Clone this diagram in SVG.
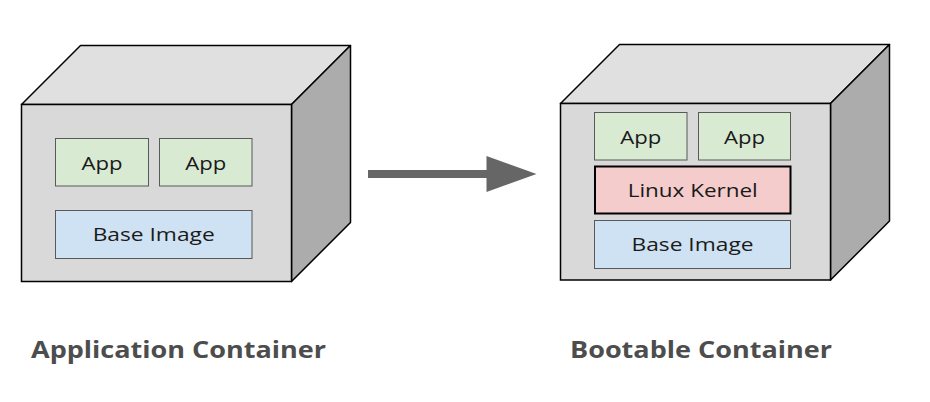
<svg xmlns="http://www.w3.org/2000/svg" width="930" height="402" viewBox="0 0 930 402">
<style>
.top{fill:#e0e0e0;stroke:#000;stroke-width:1.5;stroke-linejoin:round}
.front{fill:#d9d9d9;stroke:#000;stroke-width:1.5}
.side{fill:#acacac;stroke:#000;stroke-width:1.5;stroke-linejoin:round}
.app{fill:#d9ead3;stroke:#595959;stroke-width:1}
.base{fill:#cfe2f3;stroke:#595959;stroke-width:1}
.kernel{fill:#f4cccc;stroke:#000;stroke-width:2}
.t{font-family:"Open Sans","Noto Sans",sans-serif;font-size:19px;fill:#1a1a1a;text-anchor:middle}
.lbl{font-family:"Open Sans","Noto Sans",sans-serif;font-size:24px;font-weight:bold;fill:#4d4d4d}
</style>
<rect width="930" height="402" fill="#fff"/>
<g id="app-container">
<polygon class="top" points="21.5,104.5 80.5,45.5 350.5,45.5 291.5,104.5"/>
<polygon class="side" points="291.5,104.5 350.5,45.5 350.5,222.5 291.5,281.5"/>
<rect class="front" x="21.5" y="104.5" width="270" height="177"/>
</g>
<g id="app1"><rect class="app" x="55.5" y="138.5" width="93" height="47.5"/><text class="t" x="102" y="169.5" textLength="41" lengthAdjust="spacingAndGlyphs">App</text></g>
<g id="app2"><rect class="app" x="159.5" y="138.5" width="92.5" height="47.5"/><text class="t" x="205.7" y="169.5" textLength="41" lengthAdjust="spacingAndGlyphs">App</text></g>
<g id="base1"><rect class="base" x="55.5" y="210.5" width="196.5" height="48"/><text class="t" x="153.7" y="241" textLength="122" lengthAdjust="spacingAndGlyphs">Base Image</text></g>
<g id="bootable-container">
<polygon class="top" points="560.5,103.5 619.5,44.5 889.5,44.5 830.5,103.5"/>
<polygon class="side" points="830.5,103.5 889.5,44.5 889.5,221 830.5,280"/>
<rect class="front" x="560.5" y="103.5" width="270" height="176.5"/>
</g>
<g id="app3"><rect class="app" x="594.5" y="112.5" width="92.5" height="47.5"/><text class="t" x="640.7" y="143.5" textLength="41" lengthAdjust="spacingAndGlyphs">App</text></g>
<g id="app4"><rect class="app" x="698.5" y="112.5" width="92" height="47.5"/><text class="t" x="744.5" y="143.5" textLength="41" lengthAdjust="spacingAndGlyphs">App</text></g>
<g id="kernel"><rect class="kernel" x="595" y="166.5" width="195.5" height="47"/><text class="t" x="692.7" y="197" textLength="130" lengthAdjust="spacingAndGlyphs">Linux Kernel</text></g>
<g id="base2"><rect class="base" x="594.5" y="220.5" width="196" height="48"/><text class="t" x="692.5" y="251" textLength="122" lengthAdjust="spacingAndGlyphs">Base Image</text></g>
<g id="connectors">
<rect x="368" y="170" width="120" height="8" fill="#666"/>
<polygon points="486.5,156 536.5,174 486.5,192" fill="#666"/>
</g>
<g id="labels">
<text class="lbl" x="31" y="358" textLength="295" lengthAdjust="spacingAndGlyphs">Application Container</text>
<text class="lbl" x="570" y="358" textLength="262" lengthAdjust="spacingAndGlyphs">Bootable Container</text>
</g>
</svg>
